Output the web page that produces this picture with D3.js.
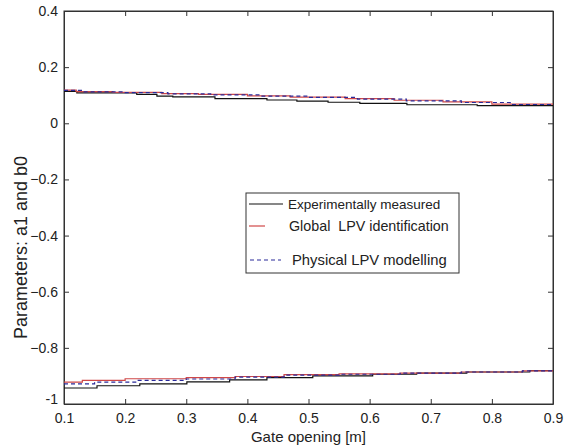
<!DOCTYPE html>
<html>
<head>
<meta charset="utf-8">
<script src="https://cdn.jsdelivr.net/npm/d3@7"></script>
<style>
  body { margin: 0; background: #fff; }
  text { font-family: "Liberation Sans", Arial, sans-serif; fill: #222; }
</style>
</head>
<body>
<div id="chart"></div>
<script>
// step breakpoints (x) and levels (y)
const a1MeasX = [0.1, 0.121, 0.219, 0.252, 0.278, 0.347, 0.432, 0.481, 0.532, 0.584, 0.661, 0.776, 0.9];
const a1MeasY = [0.114, 0.108, 0.103, 0.097, 0.094, 0.088, 0.083, 0.079, 0.075, 0.071, 0.066, 0.063, 0.063];
const a1GlobX = [0.1, 0.12, 0.18, 0.26, 0.32, 0.40, 0.47, 0.56, 0.64, 0.72, 0.80, 0.9];
const a1GlobY = [0.118, 0.113, 0.110, 0.106, 0.103, 0.098, 0.093, 0.088, 0.082, 0.076, 0.068, 0.068];
const a1PhysX = [0.1, 0.13, 0.2, 0.27, 0.34, 0.42, 0.5, 0.58, 0.66, 0.75, 0.83, 0.9];
const a1PhysY = [0.117, 0.112, 0.109, 0.105, 0.101, 0.097, 0.092, 0.086, 0.080, 0.074, 0.067, 0.067];

const b0MeasX = [0.1, 0.154, 0.224, 0.301, 0.371, 0.432, 0.507, 0.605, 0.677, 0.759, 0.862, 0.9];
const b0MeasY = [-0.943, -0.935, -0.928, -0.921, -0.914, -0.906, -0.900, -0.894, -0.890, -0.886, -0.881, -0.881];
const b0GlobX = [0.1, 0.13, 0.2, 0.3, 0.38, 0.46, 0.55, 0.65, 0.75, 0.85, 0.9];
const b0GlobY = [-0.922, -0.916, -0.910, -0.906, -0.902, -0.895, -0.893, -0.890, -0.886, -0.882, -0.882];
const b0PhysX = [0.1, 0.15, 0.22, 0.3, 0.38, 0.46, 0.55, 0.65, 0.75, 0.85, 0.9];
const b0PhysY = [-0.928, -0.922, -0.916, -0.911, -0.904, -0.897, -0.894, -0.890, -0.886, -0.882, -0.882];

const xTicks = [0.1, 0.2, 0.3, 0.4, 0.5, 0.6, 0.7, 0.8, 0.9];
const yTicks = [-1, -0.8, -0.6, -0.4, -0.2, 0, 0.2, 0.4];

const legendLabels = ["Experimentally measured", "Global  LPV identification", "Physical LPV modelling"];

const width = 571, height = 448;
const margin = { left: 64, top: 11, right: 18, bottom: 44 };

const svg = d3.select("#chart").append("svg")
    .attr("width", width)
    .attr("height", height);

const x = d3.scaleLinear().domain([0.1, 0.9]).range([margin.left, width - margin.right]);
const y = d3.scaleLinear().domain([-1, 0.4]).range([height - margin.bottom, margin.top]);

const fmt = d => d === 0 ? "0" : (d === -1 ? "-1" : d3.format(".1f")(d));

// axes, MATLAB style: ticks inside, on all four sides
const tick = 5;
svg.append("g")
    .attr("transform", `translate(0,${y(-1)})`)
    .call(d3.axisBottom(x).tickValues(xTicks).tickSizeInner(-tick).tickSizeOuter(0).tickPadding(9).tickFormat(fmt));
svg.append("g")
    .attr("transform", `translate(0,${y(0.4)})`)
    .call(d3.axisTop(x).tickValues(xTicks).tickSizeInner(-tick).tickSizeOuter(0).tickFormat(""));
const yAxis = svg.append("g")
    .attr("transform", `translate(${x(0.1)},0)`)
    .call(d3.axisLeft(y).tickValues(yTicks).tickSizeInner(-tick).tickSizeOuter(0).tickPadding(6).tickFormat(fmt));
svg.append("g")
    .attr("transform", `translate(${x(0.9)},0)`)
    .call(d3.axisRight(y).tickValues(yTicks).tickSizeInner(-tick).tickSizeOuter(0).tickFormat(""));

svg.selectAll(".domain").attr("stroke", "#333");
svg.selectAll(".tick line").attr("stroke", "#333");
svg.selectAll(".tick text").attr("font-size", 14).attr("fill", "#222")
    .attr("font-family", "Liberation Sans, Arial, sans-serif");
// MATLAB lifts the bottom y label a little
yAxis.selectAll(".tick text").filter(d => d === -1).attr("dy", "-0.05em");

// box
svg.append("rect")
    .attr("x", x(0.1)).attr("y", y(0.4))
    .attr("width", x(0.9) - x(0.1)).attr("height", y(-1) - y(0.4))
    .attr("fill", "none").attr("stroke", "#333");

// series
const line = d3.line().x(d => x(d[0])).y(d => y(d[1])).curve(d3.curveStepAfter);
const zipXY = (xs, ys) => xs.map((v, i) => [v, ys[i]]);

const series = [
    { data: zipXY(a1MeasX, a1MeasY), color: "#111", dash: null },
    { data: zipXY(b0MeasX, b0MeasY), color: "#111", dash: null },
    { data: zipXY(a1GlobX, a1GlobY), color: "#d04848", dash: null },
    { data: zipXY(b0GlobX, b0GlobY), color: "#d04848", dash: null },
    { data: zipXY(a1PhysX, a1PhysY), color: "#2a2a9a", dash: "4,3" },
    { data: zipXY(b0PhysX, b0PhysY), color: "#2a2a9a", dash: "4,3" }
];

svg.append("g").selectAll("path")
    .data(series)
    .join("path")
    .attr("d", d => line(d.data))
    .attr("fill", "none")
    .attr("stroke", d => d.color)
    .attr("stroke-width", 1.2)
    .attr("stroke-dasharray", d => d.dash);

// axis labels
svg.append("text")
    .attr("x", x(0.5)).attr("y", 442)
    .attr("text-anchor", "middle")
    .attr("font-size", 15)
    .text("Gate opening [m]");
svg.append("text")
    .attr("transform", `translate(27,${(y(0.4) + y(-1)) / 2 + 40}) rotate(-90)`)
    .attr("text-anchor", "middle")
    .attr("font-size", 18)
    .text("Parameters: a1 and b0");

// legend
const legend = svg.append("g");
legend.append("rect")
    .attr("x", 246).attr("y", 193)
    .attr("width", 213).attr("height", 80)
    .attr("fill", "#fff").attr("stroke", "#333");

const legendItems = [
    { label: legendLabels[0], color: "#111", dash: null, y: 204, x1: 249, x2: 283, tx: 288, fs: 13.5 },
    { label: legendLabels[1], color: "#d04848", dash: null, y: 226, x1: 249, x2: 265, tx: 289, fs: 14.3 },
    { label: legendLabels[2], color: "#2a2a9a", dash: "4,3", y: 260, x1: 250, x2: 281, tx: 292, fs: 14.8 }
];
const li = legend.selectAll("g.item").data(legendItems).join("g").attr("class", "item");
li.append("line")
    .attr("x1", d => d.x1).attr("x2", d => d.x2)
    .attr("y1", d => d.y).attr("y2", d => d.y)
    .attr("stroke", d => d.color).attr("stroke-width", 1.2)
    .attr("stroke-dasharray", d => d.dash);
li.append("text")
    .attr("x", d => d.tx).attr("y", d => d.y + 5)
    .attr("font-size", d => d.fs)
    .style("white-space", "pre")
    .text(d => d.label);
</script>
</body>
</html>
